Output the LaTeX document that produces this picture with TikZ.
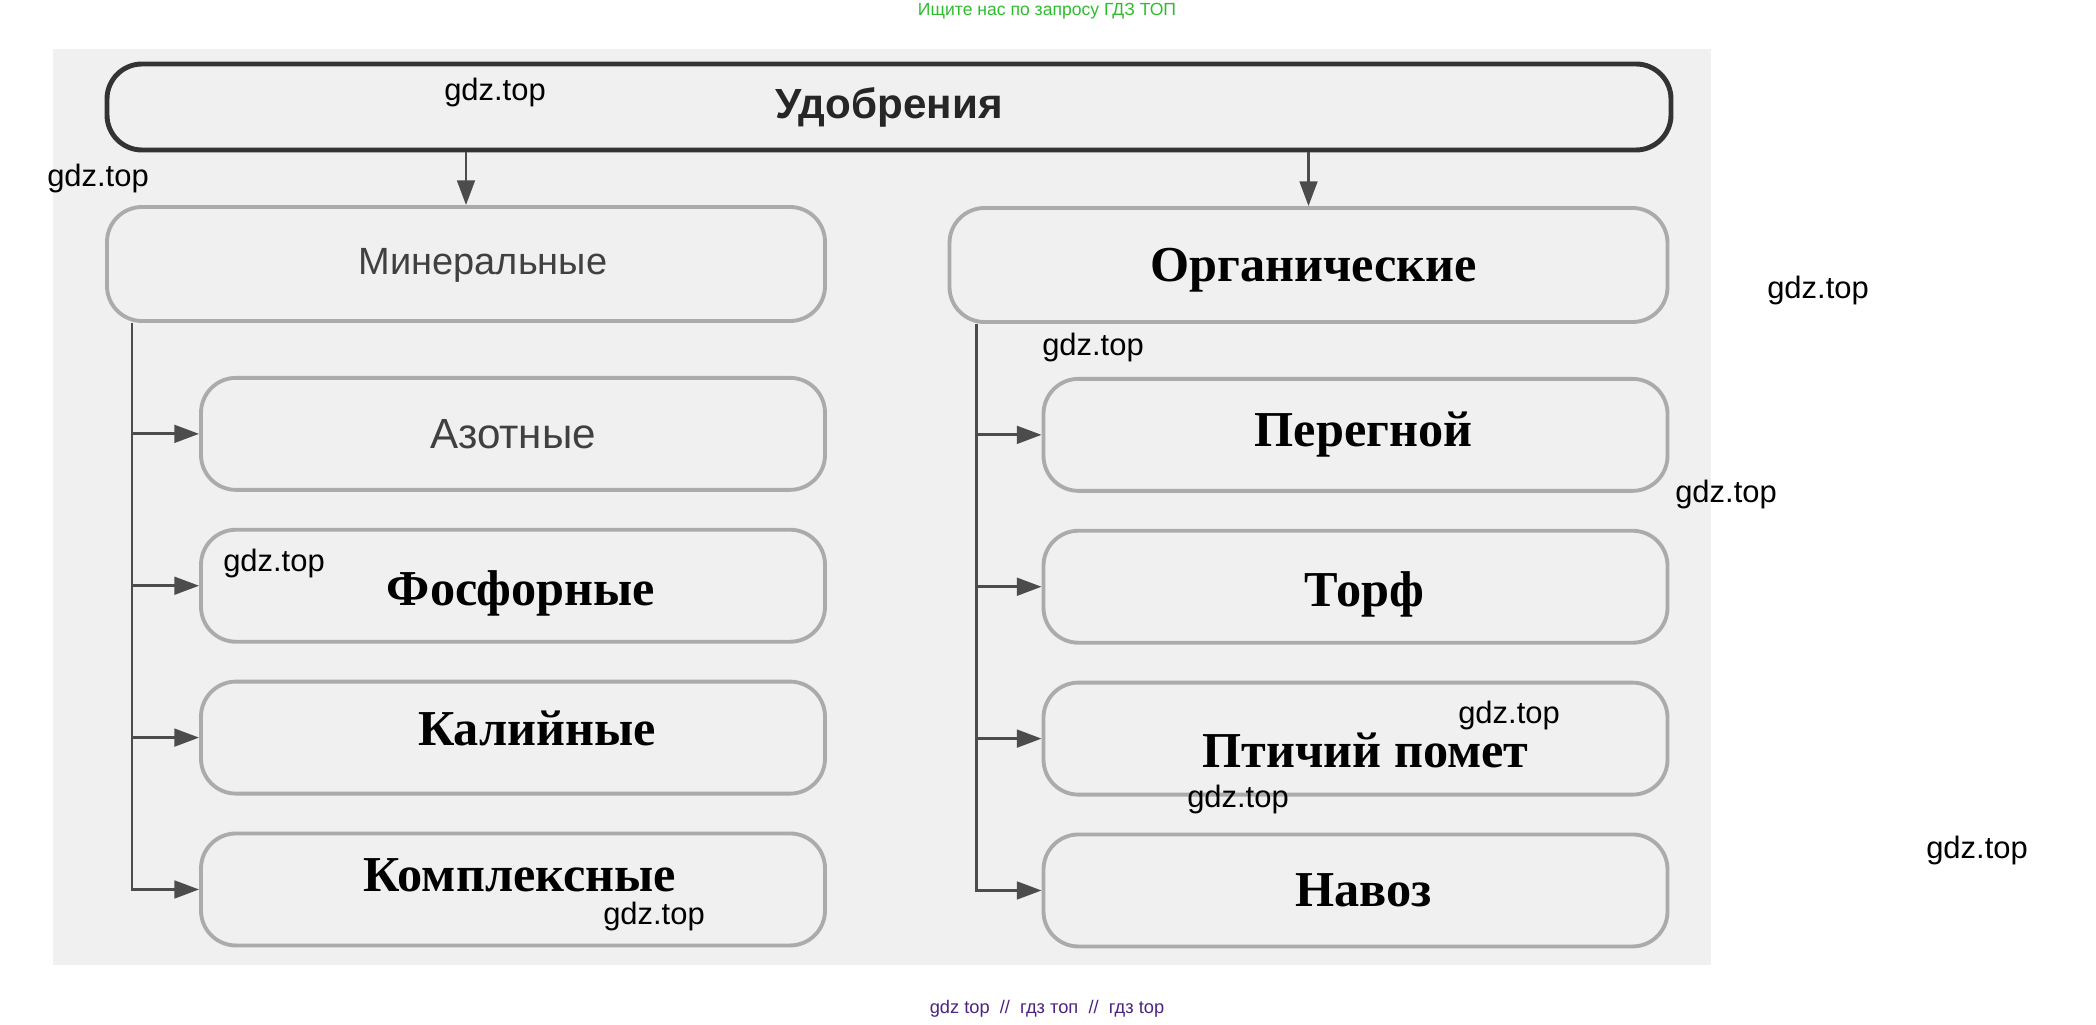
\documentclass[tikz,border=0pt]{standalone}
\usepackage{fontspec}
\setmainfont{Liberation Serif}
\setsansfont{Liberation Sans}
\usetikzlibrary{positioning,arrows.meta}
\definecolor{scan}{HTML}{F0F0F0}
\definecolor{adgreen}{HTML}{2DBE2D}
\definecolor{adpurple}{HTML}{4B2380}

\begin{document}
\begin{tikzpicture}[
            >={Triangle[length=7pt,width=5pt]},
            headbox/.style={rectangle, rounded corners=0.35cm, draw=black!80, line width=1.4pt, minimum width=15.64cm, minimum height=0.86cm, font=\sffamily\bfseries\fontsize{12}{14}\selectfont, text=black!85},
            groupbox/.style={rectangle, rounded corners=0.35cm, draw=black!33, line width=1.1pt, minimum width=7.18cm, minimum height=1.14cm},
            itembox/.style={rectangle, rounded corners=0.35cm, draw=black!33, line width=1.1pt, minimum width=6.24cm, minimum height=1.12cm},
            oldtext/.style={font=\sffamily\fontsize{12}{14}\selectfont, text=black!75},
            newtext/.style={font=\bfseries\fontsize{14.3}{17}\selectfont, text=black},
            link/.style={draw=black!70, line width=0.8pt, ->},
            wmark/.style={font=\sffamily\fontsize{8.8}{10}\selectfont, text=black},
        ]
        \useasboundingbox (0,0) rectangle (20.96,10.24);
        \fill[scan] (0.53,0.59) rectangle (17.11,9.75);

        % top of the scheme
        \node[headbox] (udob) at (8.89,9.17) {Удобрения};
        \node[groupbox] (min) at (4.66,7.60) {};
        \node[groupbox] (org) at (13.085,7.59) {};

        % mineral ones
        \node[itembox] (azot) [below=0.53cm of min.south east, anchor=north east] {};
        \node[itembox] (fos) [below=0.36cm of azot] {};
        \node[itembox] (kal) [below=0.36cm of fos] {};
        \node[itembox] (kompl) [below=0.36cm of kal] {};

        % organic ones
        \node[itembox] (pereg) [below=0.53cm of org.south east, anchor=north east] {};
        \node[itembox] (torf) [below=0.36cm of pereg] {};
        \node[itembox] (ptich) [below=0.36cm of torf] {};
        \node[itembox] (navoz) [below=0.36cm of ptich] {};

        % box texts
        \node[oldtext, font=\sffamily\fontsize{10.8}{13}\selectfont] (minT) at ([xshift=0.17cm,yshift=-0.01cm]min) {Минеральные};
        \node[newtext] (orgT) at ([xshift=0.05cm,yshift=-0.05cm]org) {Органические};
        \node[oldtext] (azotT) at (azot) {Азотные};
        \node[newtext] (fosT) at ([xshift=0.08cm,yshift=-0.08cm]fos) {Фосфорные};
        \node[newtext] (kalT) at ([xshift=0.24cm,yshift=0.09cm]kal) {Калийные};
        \node[newtext] (komplT) at ([xshift=0.07cm,yshift=0.14cm]kompl) {Комплексные};
        \node[newtext] (peregT) at ([xshift=0.08cm]pereg) {Перегной};
        \node[newtext] (torfT) at ([xshift=0.09cm,yshift=-0.08cm]torf) {Торф};
        \node[newtext] (ptichT) at ([xshift=0.1cm,yshift=-0.12cm]ptich) {Птичий помет};
        \node[newtext] (navozT) at ([xshift=0.08cm]navoz) {Навоз};

        \draw[link] (udob.south -| min.north) -- (min.north);
        \draw[link] (udob.south -| org.north) -- (org.north);

        \draw[link] ([xshift=0.27cm]min.south west) |- (azot.west);
        \draw[link] ([xshift=0.27cm]min.south west) |- (fos.west);
        \draw[link] ([xshift=0.27cm]min.south west) |- (kal.west);
        \draw[link] ([xshift=0.27cm]min.south west) |- (kompl.west);

        \draw[link] ([xshift=0.29cm]org.south west) |- (pereg.west);
        \draw[link] ([xshift=0.29cm]org.south west) |- (torf.west);
        \draw[link] ([xshift=0.29cm]org.south west) |- (ptich.west);
        \draw[link] ([xshift=0.29cm]org.south west) |- (navoz.west);

        % site marks
        \node[wmark] (w1) at (4.95,9.31) {gdz.top};
        \node[wmark] (w2) at (0.98,8.45) {gdz.top};
        \node[wmark] (w3) at (10.93,6.76) {gdz.top};
        \node[wmark] (w4) at (18.18,7.33) {gdz.top};
        \node[wmark] (w5) at (17.26,5.29) {gdz.top};
        \node[wmark] (w6) at (2.74,4.61) {gdz.top};
        \node[wmark] (w7) at (15.09,3.09) {gdz.top};
        \node[wmark] (w8) at (12.38,2.25) {gdz.top};
        \node[wmark] (w9) at (19.77,1.74) {gdz.top};
        \node[wmark] (w10) at (6.54,1.08) {gdz.top};

        \node[font=\sffamily\fontsize{5}{6}\selectfont, text=adgreen] (ask) at (10.47,10.13) {Ищите нас по запросу ГДЗ ТОП};
        \node[font=\sffamily\fontsize{5.2}{6}\selectfont, text=adpurple] (foot) at (10.47,0.15) {gdz top\ \ //\ \ гдз топ\ \ //\ \ гдз top};
    \end{tikzpicture}
\end{document}
